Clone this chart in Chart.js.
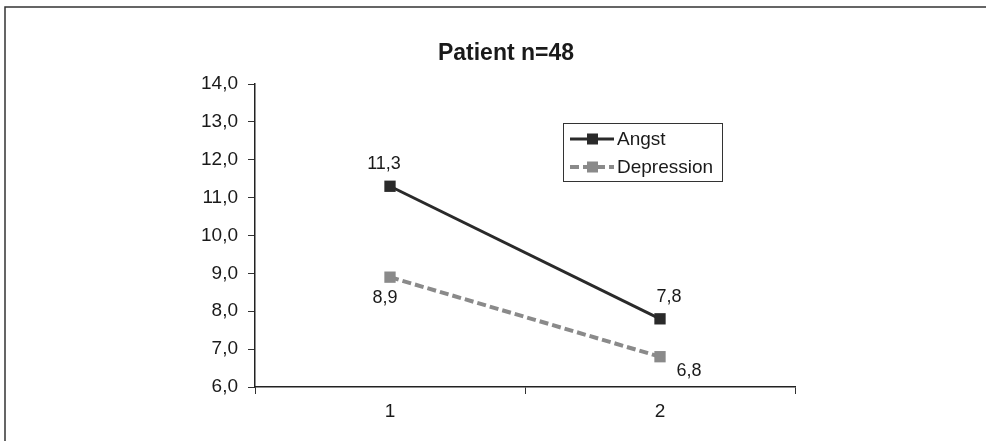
<!DOCTYPE html>
<html>
<head>
<meta charset="utf-8">
<script src="https://cdn.jsdelivr.net/npm/chart.js@4/dist/chart.umd.min.js"></script>
<style>
html,body{margin:0;padding:0;background:#fff;}
#wrap{position:relative;width:986px;height:441px;}
</style>
</head>
<body>
<div id="wrap"><canvas id="c" width="986" height="441"></canvas></div>
<script>
const categories = ['1', '2'];
const angst = [11.3, 7.8];
const depression = [8.9, 6.8];
const yTicks = [6, 7, 8, 9, 10, 11, 12, 13, 14];
const titleText = 'Patient n=48';
const seriesNames = ['Angst', 'Depression'];

const FONT = '"Liberation Sans", Arial, sans-serif';
const TXT = '#1a1a1a';
const fmt = v => v.toFixed(1).replace('.', ',');

// label offsets (px) relative to each point: [dx, dy]
const labelOffsets = [
  [[-6, -22], [9, -22]],
  [[-5, 21], [29, 14]]
];

const decorPlugin = {
  id: 'decor',
  afterDraw(chart) {
    const ctx = chart.ctx;
    ctx.save();
    // outer frame (top + left lines)
    ctx.strokeStyle = '#333';
    ctx.lineWidth = 1.5;
    ctx.beginPath();
    ctx.moveTo(5, 441); ctx.lineTo(5, 7); ctx.lineTo(986, 7);
    ctx.stroke();
    // title
    ctx.fillStyle = TXT;
    ctx.font = 'bold 23px ' + FONT;
    ctx.textAlign = 'center';
    ctx.textBaseline = 'middle';
    ctx.fillText(titleText, 506, 54);
    // data labels
    ctx.font = '18px ' + FONT;
    chart.data.datasets.forEach((ds, di) => {
      const meta = chart.getDatasetMeta(di);
      meta.data.forEach((pt, i) => {
        const off = labelOffsets[di][i];
        ctx.fillText(fmt(ds.data[i]), pt.x + off[0], pt.y + off[1]);
      });
    });
    // legend box
    const lx = 563, ly = 123, lw = 159, lh = 58;
    ctx.strokeStyle = '#333';
    ctx.lineWidth = 1;
    ctx.strokeRect(lx + 0.5, ly + 0.5, lw, lh);
    chart.data.datasets.forEach((ds, di) => {
      const y = ly + 16 + di * 28;
      ctx.save();
      ctx.strokeStyle = ds.borderColor;
      ctx.lineWidth = ds.borderWidth;
      ctx.setLineDash(ds.borderDash || []);
      ctx.beginPath();
      ctx.moveTo(lx + 7, y); ctx.lineTo(lx + 51, y);
      ctx.stroke();
      ctx.setLineDash([]);
      ctx.fillStyle = ds.pointBackgroundColor;
      ctx.fillRect(lx + 24, y - 5.5, 11, 11);
      ctx.restore();
      ctx.fillStyle = TXT;
      ctx.textAlign = 'left';
      ctx.font = '19px ' + FONT;
      ctx.fillText(seriesNames[di], lx + 54, y + 1);
    });
    ctx.restore();
  }
};

new Chart(document.getElementById('c'), {
  type: 'line',
  data: {
    labels: categories,
    datasets: [
      {
        label: seriesNames[0], data: angst,
        borderColor: '#2a2a2a', backgroundColor: '#2a2a2a',
        pointBackgroundColor: '#2a2a2a', pointBorderColor: '#2a2a2a',
        borderWidth: 3, pointStyle: 'rect', pointRadius: 8, pointBorderWidth: 0,
        tension: 0
      },
      {
        label: seriesNames[1], data: depression,
        borderColor: '#8a8a8a', backgroundColor: '#8a8a8a',
        pointBackgroundColor: '#8a8a8a', pointBorderColor: '#8a8a8a',
        borderWidth: 4, borderDash: [9, 4], pointStyle: 'rect', pointRadius: 8, pointBorderWidth: 0,
        tension: 0
      }
    ]
  },
  options: {
    responsive: false,
    animation: false,
    devicePixelRatio: 1,
    layout: { padding: { left: 0, right: 191, top: 84, bottom: 0 } },
    plugins: {
      legend: { display: false },
      title: { display: false },
      tooltip: { enabled: false }
    },
    scales: {
      x: {
        type: 'category',
        offset: true,
        grid: { display: true, drawOnChartArea: false, offset: true, tickLength: 7, color: '#333', lineWidth: 1 },
        border: { display: true, color: '#222', width: 1.5 },
        ticks: { font: { family: FONT, size: 19 }, color: TXT, padding: 6 },
        afterFit(scale) { scale.height = 54; }
      },
      y: {
        min: 6, max: 14,
        afterBuildTicks(scale) { scale.ticks = yTicks.map(v => ({ value: v })); },
        grid: { display: true, drawOnChartArea: false, tickLength: 7, color: '#333', lineWidth: 1 },
        border: { display: true, color: '#222', width: 1.5 },
        ticks: { font: { family: FONT, size: 19 }, color: TXT, padding: 10, callback: v => fmt(v) },
        afterFit(scale) { scale.width = 255; }
      }
    }
  },
  plugins: [decorPlugin]
});
</script>
</body>
</html>
